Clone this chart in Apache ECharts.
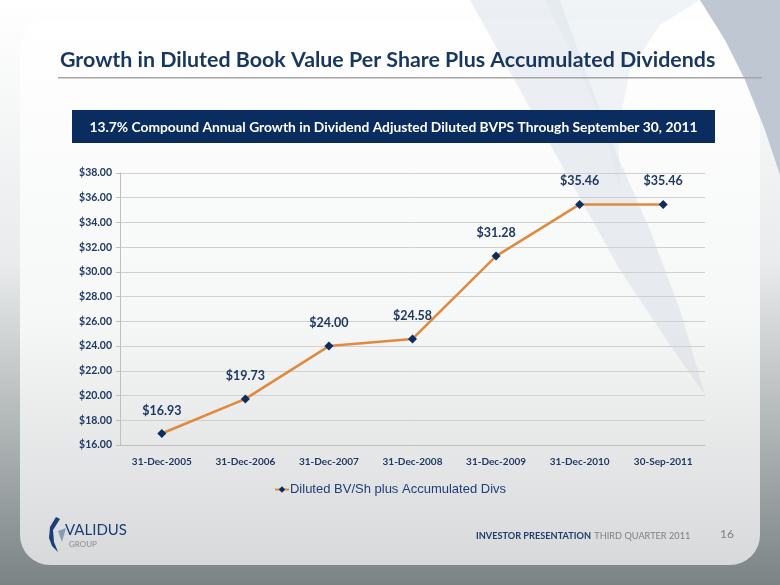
<!DOCTYPE html>
<html>
<head>
<meta charset="utf-8">
<script src="https://cdn.jsdelivr.net/npm/echarts@6/dist/echarts.min.js"></script>
<style>html,body{margin:0;padding:0;}#c{width:780px;height:585px;}</style>
</head>
<body>
<div id="c"></div>
<script>
const categories = ['31-Dec-2005','31-Dec-2006','31-Dec-2007','31-Dec-2008','31-Dec-2009','31-Dec-2010','30-Sep-2011'];
const values = [16.93, 19.73, 24.00, 24.58, 31.28, 35.46, 35.46];
const seriesName = 'Diluted BV/Sh plus Accumulated Divs';
const titleText = 'Growth in Diluted Book Value Per Share Plus Accumulated Dividends';
const bannerText = '13.7% Compound Annual Growth in Dividend Adjusted Diluted BVPS Through September 30, 2011';

const navy = '#1f3864';
const chart = echarts.init(document.getElementById('c'));
chart.setOption({
  animation: false,
  backgroundColor: {
    type: 'linear', x: 0, y: 0, x2: 0, y2: 1,
    colorStops: [{offset: 0, color: '#ffffff'}, {offset: 0.45, color: '#e9ebec'}, {offset: 1, color: '#7b8384'}]
  },
  graphic: [
    { type: 'rect', z: -10, shape: {x: 20, y: 20, width: 740, height: 545, r: 30},
      style: { fill: { type: 'linear', x: 0, y: 0, x2: 0, y2: 1,
        colorStops: [{offset: 0, color: '#ffffff'}, {offset: 0.55, color: '#f6f7f7'}, {offset: 1, color: '#d7d9da'}] } } },
    { type: 'polygon', z: -9, shape: { points: [[700,0],[780,0],[780,175],[765,130],[745,80],[725,40]] }, style: { fill: '#bfc7d2' } },
    { type: 'polygon', z: -8, shape: { points: [[470,0],[560,0],[585,70],[615,150],[650,230],[680,310],[705,395],[670,345],[620,270],[570,180],[520,90]] }, style: { fill: 'rgba(200,208,222,0.35)' } },
    { type: 'polygon', z: -8, shape: { points: [[545,0],[700,0],[660,25],[630,70],[618,130],[620,190],[605,130],[580,70]] }, style: { fill: 'rgba(225,230,238,0.45)' } },
    { type: 'text', left: 60, top: 50, style: { text: titleText, font: 'bold 21.4px Lato', fill: '#17375e' } },
    { type: 'rect', shape: {x: 58, y: 77, width: 704, height: 1.5}, style: { fill: '#a6a6a6' } },
    { type: 'rect', shape: {x: 72, y: 110, width: 643, height: 33}, style: { fill: '#0b2c5f' } },
    { type: 'text', x: 393.5, y: 128, style: { text: bannerText, font: 'bold 13.8px Lato', fill: '#ffffff', textAlign: 'center', textVerticalAlign: 'middle' } },
    { type: 'polygon', shape: { points: [[56,517],[50,527],[49,538],[52,546],[58,552],[54,542],[53,530],[60,519]] }, style: { fill: '#1a3e78' } },
    { type: 'polygon', shape: { points: [[58,531],[66,528],[62,542]] }, style: { fill: '#8a9bb5' } },
    { type: 'text', x: 65, y: 523, style: { text: 'VALIDUS', font: '15px Lato', fill: '#1a3e78' } },
    { type: 'text', x: 69, y: 540, style: { text: 'GROUP', font: '8px Lato', fill: '#8c8c8c' } },
    { type: 'text', x: 476, y: 530, style: { rich: { a: { font: 'bold 9.2px Lato', fill: '#1f3d6e' }, b: { font: '9.2px Lato', fill: '#7f7f7f' } }, text: '{a|INVESTOR PRESENTATION} {b|THIRD QUARTER 2011}' } },
    { type: 'text', x: 720, y: 528, style: { text: '16', font: '12px Lato', fill: '#7f7f7f' } }
  ],
  grid: { left: 120, right: 75, top: 173, bottom: 140 },
  legend: {
    bottom: 84, left: 'center',
    itemWidth: 14, itemHeight: 8, itemGap: 0,
    textStyle: { fontFamily: 'Liberation Sans', fontSize: 13, color: '#1f3d7a', padding: [0,0,0,-4] },
    data: [seriesName]
  },
  xAxis: {
    type: 'category', data: categories, boundaryGap: true,
    axisLine: { lineStyle: { color: '#bfbfbf' } },
    axisTick: { lineStyle: { color: '#bfbfbf' }, length: 4 },
    axisLabel: { interval: 0, fontFamily: 'Lato', fontWeight: 'bold', fontSize: 10, color: navy, margin: 12 }
  },
  yAxis: {
    type: 'value', min: 16, max: 38, interval: 2,
    axisLine: { show: true, lineStyle: { color: '#bfbfbf' } },
    axisTick: { show: true, lineStyle: { color: '#bfbfbf' }, length: 4 },
    splitLine: { lineStyle: { color: '#d0d0d0' } },
    axisLabel: { fontFamily: 'Lato', fontWeight: 'bold', fontSize: 10.5, color: navy, margin: 8,
      formatter: v => '$' + v.toFixed(2) }
  },
  series: [{
    name: seriesName, type: 'line', data: values,
    symbol: 'diamond', symbolSize: 9,
    lineStyle: { color: '#df8a3e', width: 2.5 },
    itemStyle: { color: '#0b2c5f' },
    label: { show: true, position: 'top', distance: 12, fontFamily: 'Lato', fontWeight: 'bold', fontSize: 12.5, color: navy,
      formatter: p => '$' + p.value.toFixed(2) }
  }]
});
</script>
</body>
</html>
